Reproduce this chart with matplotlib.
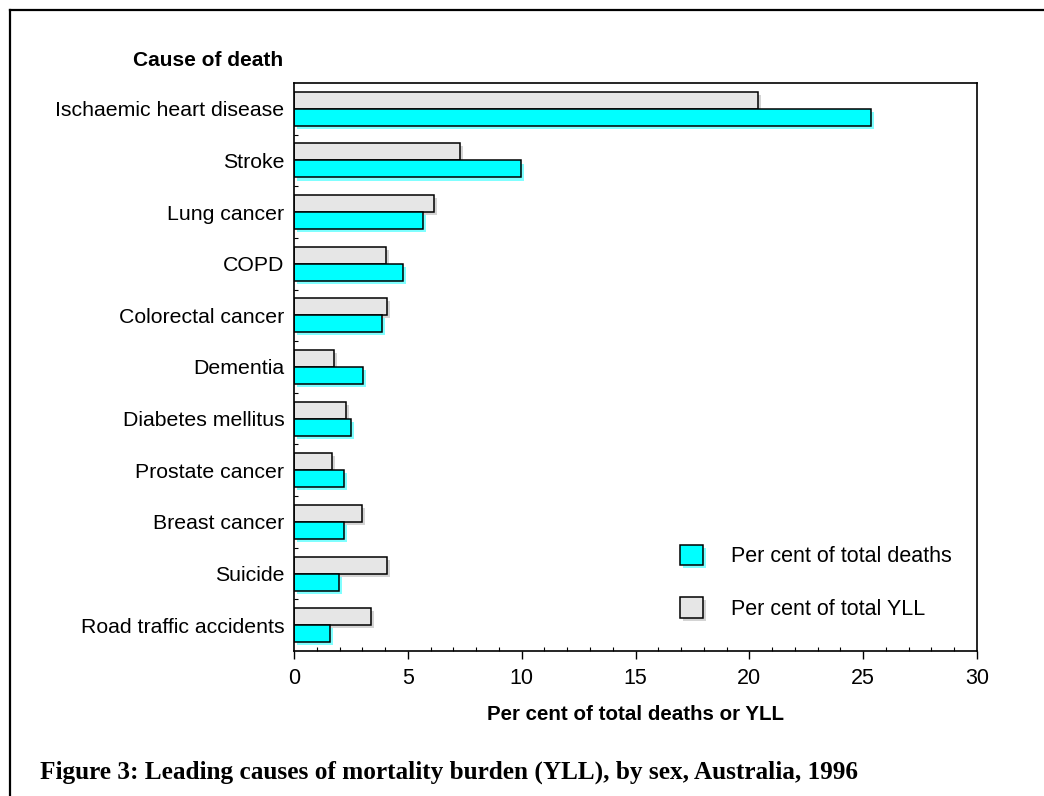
import numpy as np
import matplotlib
matplotlib.use("Agg")
from matplotlib import pyplot as plt
from matplotlib.patches import Patch
from matplotlib.lines import Line2D
import matplotlib.patheffects as pe

# Data
causes = ["Ischaemic heart disease", "Stroke", "Lung cancer", "COPD",
          "Colorectal cancer", "Dementia", "Diabetes mellitus",
          "Prostate cancer", "Breast cancer", "Suicide",
          "Road traffic accidents"]
pct_deaths = [25.33, 9.97, 5.67, 4.79, 3.85, 3.02, 2.52, 2.21, 2.18, 1.96, 1.60]
pct_yll = [20.39, 7.29, 6.15, 4.04, 4.10, 1.76, 2.30, 1.65, 3.00, 4.10, 3.38]

CYAN = "#00ffff"
GREY = "#e6e6e6"


def main():
    plt.rcParams["font.family"] = ["Liberation Sans", "DejaVu Sans"]
    fig = plt.figure(figsize=(10.44, 7.96), dpi=100)
    ax = fig.add_axes([294 / 1044, 1 - 651 / 796, (977 - 294) / 1044, (651 - 83) / 796])

    y = np.arange(len(causes))
    h = 0.33
    shadow_c = [pe.SimplePatchShadow(offset=(2.2, -2.2), shadow_rgbFace="#80ffff", alpha=1.0), pe.Normal()]
    shadow_g = [pe.SimplePatchShadow(offset=(2.2, -2.2), shadow_rgbFace="#d4d4d4", alpha=1.0), pe.Normal()]

    bars_g = ax.barh(y - h / 2, pct_yll, height=h, color=GREY, edgecolor="black", linewidth=1.1)
    bars_c = ax.barh(y + h / 2, pct_deaths, height=h, color=CYAN, edgecolor="black", linewidth=1.1)
    for b in bars_g:
        b.set_path_effects(shadow_g)
    for b in bars_c:
        b.set_path_effects(shadow_c)

    ax.set_xlim(0, 30)
    ax.set_ylim(len(causes) - 0.5, -0.5)
    ax.set_xticks(range(0, 31, 5))
    ax.set_xticks(range(0, 31, 1), minor=True)
    ax.set_yticks(y)
    ax.set_yticklabels(causes)
    ax.set_yticks(np.arange(0.5, len(causes) - 1, 1), minor=True)
    ax.tick_params(axis="x", which="major", direction="out", length=6, width=1, labelsize=15.5, pad=6)
    ax.tick_params(axis="x", which="minor", direction="in", length=3, width=0.8)
    ax.tick_params(axis="y", which="major", length=0, labelsize=15.3, pad=7)
    ax.tick_params(axis="y", which="minor", direction="in", length=3, width=0.8)
    for s in ax.spines.values():
        s.set_linewidth(1.2)

    ax.set_xlabel("Per cent of total deaths or YLL", fontsize=14.8, fontweight="bold", labelpad=12)
    fig.text(283 / 1044, 1 - 60 / 796, "Cause of death", ha="right", va="center",
             fontsize=15, fontweight="bold")

    handles = [Patch(facecolor=CYAN, edgecolor="black", linewidth=1.1, label="Per cent of total deaths"),
               Patch(facecolor=GREY, edgecolor="black", linewidth=1.1, label="Per cent of total YLL")]
    leg = ax.legend(handles=handles, loc="center left", bbox_to_anchor=(0.565, 0.121),
                    frameon=False, fontsize=15.5, handlelength=1.07, handleheight=1.07,
                    handletextpad=1.3, labelspacing=1.4, borderpad=0, borderaxespad=0)
    leg.legend_handles[0].set_path_effects(shadow_c)
    leg.legend_handles[1].set_path_effects(shadow_g)

    fig.text(40 / 1044, 1 - 772 / 796,
             "Figure 3: Leading causes of mortality burden (YLL), by sex, Australia, 1996",
             ha="left", va="center", fontsize=18.2, fontweight="bold",
             family=["Liberation Serif", "DejaVu Serif"])

    # outer frame (left and top edges visible)
    fig.add_artist(Line2D([10 / 1044, 10 / 1044], [0, 1 - 10 / 796], color="black", linewidth=1.6,
                          transform=fig.transFigure))
    fig.add_artist(Line2D([10 / 1044, 1], [1 - 10 / 796, 1 - 10 / 796], color="black", linewidth=1.6,
                          transform=fig.transFigure))

    fig.savefig("out.png", dpi=100)
    plt.close(fig)


if __name__ == "__main__":
    main()
